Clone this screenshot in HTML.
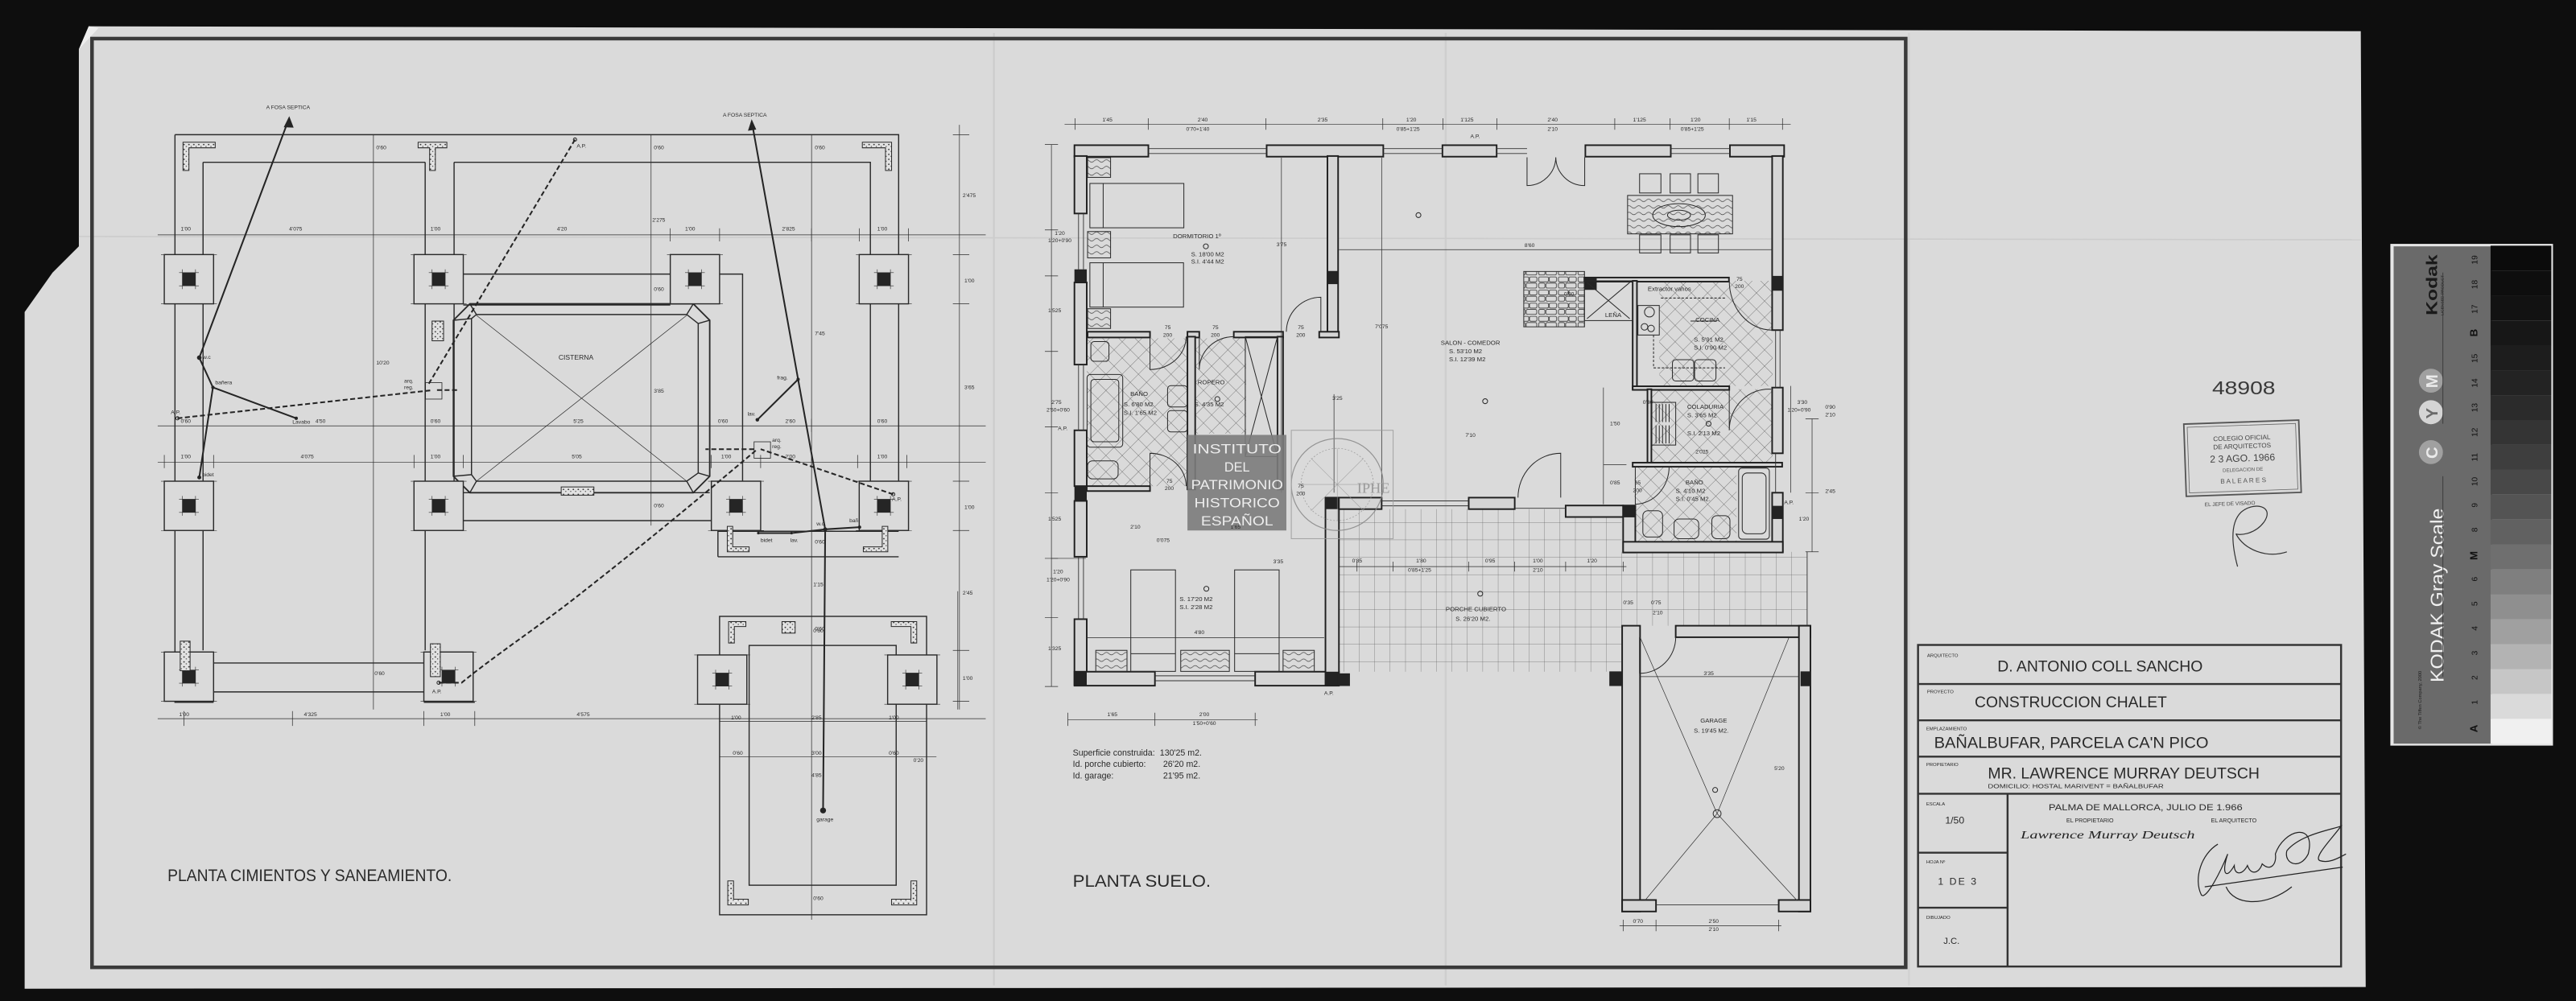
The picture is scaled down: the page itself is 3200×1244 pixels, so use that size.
<!DOCTYPE html>
<html><head><meta charset="utf-8"><style>
html,body{margin:0;padding:0;background:#0e0e0e;}
svg{display:block;}
text{font-family:"Liberation Sans",sans-serif;fill:#2a2a2a;}
.d{font-size:3.3px;}
.l{font-size:4.2px;}
.s{font-size:3.8px;}
</style></head><body>
<svg width="3200" height="1244" viewBox="0 0 1568 609.5" preserveAspectRatio="none" xmlns="http://www.w3.org/2000/svg">
<defs>
<pattern id="tile" width="7" height="7" patternUnits="userSpaceOnUse" patternTransform="rotate(45)">
<path d="M0 0H7M0 0V7" stroke="#555" stroke-width="0.35" fill="none"/></pattern>
<pattern id="grid" width="9.4" height="10.6" patternUnits="userSpaceOnUse">
<path d="M0 0H9.4M0 0V10.6" stroke="#666" stroke-width="0.35" fill="none"/></pattern>
<pattern id="dots" width="3" height="3" patternUnits="userSpaceOnUse">
<rect width="3" height="3" fill="#e2e2e2"/><circle cx="1" cy="1" r="0.45" fill="#333"/><circle cx="2.4" cy="2.2" r="0.35" fill="#444"/></pattern>
<pattern id="wood" width="6" height="4" patternUnits="userSpaceOnUse">
<path d="M0 2 Q1.5 0.5 3 2 T6 2" stroke="#444" stroke-width="0.35" fill="none"/></pattern>
<pattern id="stone" width="12" height="8" patternUnits="userSpaceOnUse">
<rect x="0.6" y="0.6" width="6" height="3" rx="0.8" fill="none" stroke="#333" stroke-width="0.4"/>
<rect x="7" y="0.6" width="4.5" height="3" rx="0.8" fill="none" stroke="#333" stroke-width="0.4"/>
<rect x="0.6" y="4.4" width="3.8" height="3" rx="0.8" fill="none" stroke="#333" stroke-width="0.4"/>
<rect x="5" y="4.4" width="6.4" height="3" rx="0.8" fill="none" stroke="#333" stroke-width="0.4"/></pattern>
<g id="ft">
<rect x="0" y="0" width="30" height="30" fill="#dadada" stroke="#2a2a2a" stroke-width="0.7"/>
<rect x="11" y="11" width="8" height="8" fill="#252525"/>
<path d="M9 11H21M9 19H21M11 9V21M19 9V21" stroke="#2a2a2a" stroke-width="0.3"/>
<path d="M-2 0H32M-2 30H32" stroke="#2a2a2a" stroke-width="0.3"/>
</g>
</defs>

<rect width="1568" height="609.5" fill="#0e0e0e"/>
<polygon points="54,16 1437,19 1440,601 15,602 15,190 32,166 48,150 48,30" fill="#dadada"/>
<path d="M54,16 L48,30 L60,17 Z" fill="#eeeeee"/>
<line x1="605" y1="20" x2="605" y2="600" stroke="#cbcbcb" stroke-width="1"/>
<line x1="880" y1="20" x2="880" y2="600" stroke="#cecece" stroke-width="1.2"/>
<line x1="1162" y1="20" x2="1162" y2="600" stroke="#d0d0d0" stroke-width="1"/>
<line x1="48" y1="144" x2="1437" y2="146" stroke="#cccccc" stroke-width="0.8"/>

<rect x="56" y="23.5" width="1104" height="565.5" fill="none" stroke="#3a3a3a" stroke-width="2.2"/>

<!-- LEFT PLAN -->
<g stroke="#2a2a2a" stroke-width="0.7" fill="none">
<path d="M106.5 82H547V323"/>
<path d="M123.6 98.8H258.8M276.4 98.8H529.8V293"/>
<path d="M106.5 82V427.6H130M123.6 98.8V396"/>
<path d="M258.8 98.8V396M276.4 98.8V155M276.4 185V293"/>
<path d="M130 403.7H258M130 421.3H258M258 427.6H289"/>
<path d="M282 166.9H408M282 185.7H408M438 166.9H452V317M282 300H432M282 317H452"/>
<path d="M437 323.5H547M437 339H547M437 323V339"/>
<polygon points="276,195 286,185 422,185 432,195 432,290 422,300 286,300 276,290" stroke-width="0.9"/>
<polygon points="287,194 290,191.5 418,191.5 425,197 425,288 418,293 290,293 287,289"/>
<path d="M276 195L287 194M286 185L290 191.5M422 185L418 191.5M432 195L425 197M432 290L425 288M422 300L418 293M286 300L290 293M276 290L287 289"/>
<path d="M290 192L418 293M418 192L290 293" stroke-width="0.35"/>
<rect x="438" y="375.3" width="126" height="181.7"/>
<rect x="456" y="393" width="89.5" height="146"/>
<g stroke-width="0.35">
<path d="M96 143H600M96 259.3H600M96 281.5H600M96 437.6H600"/>
<path d="M227.3 82V432M396.3 82V320M494 82V560M584 76V432M583 360V432"/>
<path d="M106.5 139V147M123.6 139V147M258.8 139V147M276.4 139V147M408 139V147M438 139V147M494 139V147M523 139V147M553 139V147"/>
<path d="M106.5 255V263M123.6 255V263M258.8 255V263M276.4 255V263M432 255V263M452 255V263M494 255V263M529.8 255V263M547 255V263"/>
<path d="M100 277V285M130 277V285M252 277V285M282 277V285M433 277V285M463 277V285M494 277V285M522 277V285M552 277V285"/>
<path d="M112 433V442M178 433V442M258 433V442M289 433V442M438 433V442"/>
<path d="M580 82H590M580 155H590M580 185H590M580 293H590M580 323H590M580 396H590M580 427H590"/>
<path d="M438 439.3H564M438 460.9H570"/>
</g>
</g>
<use href="#ft" x="100" y="155"/><use href="#ft" x="252" y="155"/><use href="#ft" x="408" y="155"/><use href="#ft" x="523" y="155"/>
<use href="#ft" x="100" y="293"/><use href="#ft" x="252" y="293"/><use href="#ft" x="433" y="293"/><use href="#ft" x="523" y="293"/>
<use href="#ft" x="100" y="397"/><use href="#ft" x="258" y="397"/>
<use href="#ft" x="424.6" y="398.8"/><use href="#ft" x="540.3" y="398.8"/>
<g fill="url(#dots)" stroke="#2a2a2a" stroke-width="0.5">
<path d="M111.4 86.6H131V90H115V103.8H111.4Z"/>
<path d="M254.5 86.6H272V90H265V103.8H261.5V90H254.5Z"/>
<path d="M524.9 86.6H542.7V103.8H539V90H524.9Z"/>
<rect x="263" y="195.5" width="7" height="12"/>
<rect x="341.6" y="296.5" width="19.9" height="5"/>
<rect x="109.7" y="390.4" width="6" height="18"/>
<rect x="262" y="392" width="6" height="20"/>
<path d="M442.7 320.5H446V333H456V336H442.7Z"/>
<path d="M537 320.5H540.4V336H525.5V333H537Z"/>
<path d="M443.5 378.5H454V381.5H447V391.5H443.5Z"/>
<rect x="476" y="378.5" width="8" height="7"/>
<path d="M542.5 378.5H558V391.5H554.5V381.5H542.5Z"/>
<path d="M443 536.4H446.5V547.5H455.5V551H443Z"/>
<path d="M554.5 536.4H558V551H542.7V547.5H554.5Z"/>
</g>
<g stroke="#252525" fill="none">
<path d="M176 72L121.3 217.8L129.6 235.9L121.3 290.7M129.6 235.9L180.3 254.7" stroke-width="1"/>
<path d="M176 72l-2.5 5 4.5 0.2z" fill="#252525"/>
<path d="M108 254.7L262 237.7M350 85L260.5 234.5M266 237.5H278.7" stroke-width="1" stroke-dasharray="3,1.6"/>
<path d="M267 415.7H281C300 400 330 380 353 361.8S400 325 461 273.5" stroke-width="1" stroke-dasharray="3,1.6"/>
<path d="M543.7 301L463 273.5M459 273.5H429.4" stroke-width="1" stroke-dasharray="3,1.6"/>
<path d="M457.6 74L485.8 231L502.3 322.3L501 493.5M485.8 231L461 255.6M502.3 322.3L523.2 321M502.3 322.3L481.8 324.6H461.6" stroke-width="1"/>
<path d="M457.6 74l-1.6 5 3.6-0.5z" fill="#252525"/>
<rect x="259" y="233" width="10" height="10" stroke-width="0.4"/>
<rect x="459" y="269" width="10" height="10" stroke-width="0.4"/>
</g>
<g fill="#252525">
<circle cx="121.3" cy="217.8" r="1.4"/><circle cx="129.6" cy="235.9" r="1"/><circle cx="121.3" cy="290.7" r="1.2"/><circle cx="180.3" cy="254.7" r="1"/>
<circle cx="485.8" cy="231" r="1"/><circle cx="461" cy="255.6" r="1.1"/><circle cx="502.3" cy="322.3" r="1.2"/><circle cx="523.2" cy="321" r="1"/><circle cx="481.8" cy="324.6" r="0.8"/><circle cx="461.6" cy="324.6" r="0.8"/><circle cx="501" cy="493.5" r="1.8"/>
</g>
<g fill="none" stroke="#252525" stroke-width="0.5"><circle cx="108" cy="254.7" r="1"/><circle cx="350" cy="85" r="1"/><circle cx="543.7" cy="301" r="1"/><circle cx="267" cy="415.7" r="1"/></g>
<text x="162" y="66.5" class="d">A FOSA SEPTICA</text>
<text x="440" y="71" class="d">A FOSA SEPTICA</text>
<text x="340" y="219" class="l">CISTERNA</text>
<text x="123.5" y="218.5" class="d">w.c</text>
<text x="131" y="234" class="d">bañera</text>
<text x="178" y="258" class="d">Lavabo</text>
<text x="104" y="252" class="d">A.P.</text>
<text x="246" y="233" class="d">arq.</text><text x="246" y="237" class="d">reg.</text>
<text x="123" y="290" class="d">bidet</text>
<text x="351" y="90" class="d">A.P.</text>
<text x="473" y="231" class="d">frag.</text>
<text x="455" y="253" class="d">lav.</text>
<text x="470" y="269" class="d">arq.</text><text x="470" y="273" class="d">reg.</text>
<text x="543" y="305" class="d">A.P.</text>
<text x="517" y="318" class="d">bañ.</text>
<text x="497" y="320" class="d">w.c.</text>
<text x="463" y="330" class="d">bidet</text>
<text x="481" y="330" class="d">lav.</text>
<text x="263" y="422" class="d">A.P.</text>
<text x="497" y="500" class="d">garage</text>
<g class="d">
<text x="110" y="140.5">1'00</text><text x="176" y="140.5">4'075</text><text x="262" y="140.5">1'00</text><text x="339" y="140.5">4'20</text><text x="417" y="140.5">1'00</text><text x="476" y="140.5">2'825</text><text x="534" y="140.5">1'00</text>
<text x="110" y="257.5">0'60</text><text x="192" y="257.5">4'50</text><text x="262" y="257.5">0'60</text><text x="349" y="257.5">5'25</text><text x="437" y="257.5">0'60</text><text x="478" y="257.5">2'60</text><text x="534" y="257.5">0'60</text>
<text x="110" y="279">1'00</text><text x="183" y="279">4'075</text><text x="262" y="279">1'00</text><text x="348" y="279">5'05</text><text x="439" y="279">1'00</text><text x="478" y="279">2'00</text><text x="534" y="279">1'00</text>
<text x="229" y="91">0'60</text><text x="398" y="91">0'60</text><text x="496" y="91">0'60</text><text x="397" y="135">2'275</text><text x="398" y="177">0'60</text><text x="398" y="239">3'85</text><text x="398" y="309">0'60</text><text x="229" y="222">10'20</text><text x="496" y="204">7'45</text><text x="496" y="331">0'60</text><text x="495" y="357">1'15</text><text x="496" y="384">0'60</text><text x="228" y="411">0'60</text>
<text x="586" y="120">2'475</text><text x="587" y="172">1'00</text><text x="587" y="237">3'65</text><text x="587" y="310">1'00</text><text x="586" y="362">2'45</text><text x="586" y="414">1'00</text>
<text x="109" y="436">1'00</text><text x="185" y="436">4'325</text><text x="268" y="436">1'00</text><text x="351" y="436">4'575</text>
<text x="445" y="438">1'00</text><text x="494" y="438">2'85</text><text x="541" y="438">1'00</text>
<text x="446" y="459.5">0'60</text><text x="494" y="459.5">3'00</text><text x="541" y="459.5">0'60</text><text x="556" y="464">0'20</text>
<text x="494" y="473">4'85</text><text x="495" y="548">0'60</text><text x="495" y="385">0'60</text>
</g>
<text x="102" y="536.5" style="font-size:10.5px" textLength="173" lengthAdjust="spacingAndGlyphs">PLANTA CIMIENTOS Y SANEAMIENTO.</text>

<!-- RIGHT PLAN -->
<rect x="815" y="310" width="172" height="99" fill="url(#grid)"/>
<rect x="987" y="336" width="113" height="45" fill="url(#grid)"/>
<rect x="661.5" y="206" width="61" height="90" fill="url(#tile)"/>
<rect x="727.5" y="206" width="31" height="58" fill="url(#tile)"/>
<rect x="1010" y="171" width="69" height="64" fill="url(#tile)"/>
<rect x="1005" y="237" width="74" height="45" fill="url(#tile)"/>
<rect x="995" y="284" width="62" height="46" fill="url(#tile)"/>
<rect x="927.5" y="165.3" width="37" height="33.7" fill="url(#stone)" stroke="#333" stroke-width="0.5"/>
<g fill="#d5d5d5" stroke="#1e1e1e" stroke-width="0.95">
<rect x="654" y="88.4" width="45" height="7"/><rect x="771" y="88.4" width="71" height="7"/><rect x="878" y="88.4" width="33" height="7"/><rect x="965" y="88.4" width="52" height="7"/><rect x="1053" y="88.4" width="33" height="7"/>
<rect x="654" y="95" width="7.5" height="35"/><rect x="654" y="172" width="7.5" height="50"/><rect x="654" y="262" width="7.5" height="34"/><rect x="654" y="305" width="7.5" height="34"/><rect x="654" y="377" width="7.5" height="40"/>
<rect x="654" y="409" width="49" height="8.5"/><rect x="764" y="409" width="51" height="8.5"/>
<rect x="806.8" y="303" width="8.2" height="114"/>
<rect x="815" y="303" width="26" height="7"/><rect x="894" y="303" width="28" height="7"/><rect x="953" y="307.8" width="35" height="7"/>
<rect x="1078.7" y="95" width="6.5" height="106"/><rect x="1078.7" y="236" width="6.5" height="40"/><rect x="1078.7" y="300" width="6.5" height="36"/>
<rect x="988" y="307.8" width="7.4" height="28.6"/><rect x="988" y="329.9" width="97.2" height="6.5"/>
<rect x="964.4" y="169" width="88" height="2.5"/><rect x="993.8" y="171" width="2.6" height="66"/>
<rect x="993.8" y="235.2" width="58.8" height="2.2"/><rect x="1002.8" y="237" width="2.4" height="46"/>
<rect x="993.8" y="281.7" width="91" height="2.5"/>
<rect x="808" y="95" width="6.5" height="108"/>
<rect x="662" y="202" width="38" height="3.5"/><rect x="722.8" y="202" width="7.2" height="3.5"/><rect x="751" y="202" width="30" height="3.5"/><rect x="803" y="202" width="12" height="3.5"/>
<rect x="722.8" y="205" width="4.7" height="93"/><rect x="777.6" y="205" width="3.4" height="93"/>
<rect x="661.5" y="296" width="38.5" height="3"/>
<rect x="987.4" y="381" width="10.9" height="174"/><rect x="1020" y="381" width="82" height="7"/><rect x="1095" y="381" width="7" height="174"/>
<rect x="987.4" y="548" width="20.6" height="7"/><rect x="1082.7" y="548" width="19.3" height="7"/>
</g>
<g fill="#232323">
<rect x="654" y="164" width="7.5" height="8"/><rect x="654" y="296" width="7.5" height="9"/><rect x="654" y="409" width="7.5" height="8.5"/>
<rect x="806.8" y="409" width="8.2" height="8.5"/><rect x="806.8" y="303" width="8.2" height="7"/><rect x="808" y="165" width="6.5" height="8"/>
<rect x="1078.7" y="168" width="6.5" height="9"/><rect x="1078.7" y="308" width="6.5" height="8"/><rect x="964.4" y="169" width="7.5" height="7.5"/>
<rect x="988" y="307.8" width="7.4" height="7.2"/><rect x="979.6" y="408.8" width="7.8" height="8.9"/><rect x="1096" y="408.8" width="6" height="9"/><rect x="814" y="410" width="7.7" height="7.7"/>
</g>
<g stroke="#333" stroke-width="0.45" fill="none">
<path d="M699 90.5H771M699 93.5H771M842 90.5H878M842 93.5H878M911 90.5H929.5M911 93.5H929.5M1017 90.5H1053M1017 93.5H1053"/>
<path d="M656.5 130V164M659.5 130V164M656.5 222V262M659.5 222V262M656.5 339V377M659.5 339V377"/>
<path d="M703 411.5H764M703 414.5H764M841 305H894M841 308H894M922 309.5H953M1080.8 201V236M1083.5 201V236M1080.8 276V300"/>
<path d="M1008 551H1082.7M1100 336V381"/>
</g>
<g stroke="#2a2a2a" stroke-width="0.5" fill="none">
<path d="M929.5 95.8V113A17.5 17.5 0 0 0 947 95.8M964.6 95.8V113A17.5 17.5 0 0 1 947 95.8"/>
<path d="M804 202V181A21 21 0 0 0 783 202"/>
<path d="M950 303V276A26 27 0 0 0 924 303"/>
<path d="M700 205V225A22 20 0 0 0 722 205"/>
<path d="M730 205V225A21 20 0 0 1 751 205"/>
<path d="M700 296V276A22 20 0 0 1 722 296"/>
<path d="M998 388V410A22 22 0 0 0 1020 388"/>
<path d="M1052.6 171A26 30 0 0 0 1078.7 201"/>
<path d="M1052.6 237V262A24 25 0 0 1 1078 237"/>
<path d="M995.4 284V307A21 23 0 0 0 1016 284"/>
</g>
<g stroke="#2a2a2a" stroke-width="0.5" fill="none">
<rect x="663.4" y="111.7" width="57.2" height="27"/><path d="M671.5 111.7V138.7"/>
<rect x="663.4" y="160" width="57" height="27"/><path d="M671.5 160V187"/>
<rect x="662" y="96" width="14" height="12" fill="url(#wood)"/><rect x="662" y="141" width="14" height="16" fill="url(#wood)"/><rect x="662" y="188" width="14" height="12" fill="url(#wood)"/>
<rect x="688.3" y="347" width="27.2" height="61.8"/><path d="M688.3 398H715.5"/>
<rect x="751.5" y="347" width="27.1" height="61.8"/><path d="M751.5 398H778.6"/>
<rect x="667" y="396" width="19" height="12.8" fill="url(#wood)"/><rect x="718.7" y="396" width="29.6" height="12.8" fill="url(#wood)"/><rect x="781" y="396" width="19" height="12.8" fill="url(#wood)"/>
<rect x="990.7" y="119" width="63.9" height="23.4" fill="url(#wood)"/><ellipse cx="1022" cy="131" rx="16" ry="7"/><ellipse cx="1022" cy="131" rx="7" ry="3"/>
<rect x="998" y="105.8" width="13" height="11.7"/><rect x="1016.6" y="105.8" width="12.4" height="11.7"/><rect x="1033.5" y="105.8" width="12.5" height="11.7"/>
<rect x="998" y="143" width="13" height="11"/><rect x="1016.6" y="143" width="12.4" height="11"/><rect x="1033.5" y="143" width="12.5" height="11"/>
<rect x="661.7" y="228" width="21.7" height="44.3" rx="2"/><rect x="664" y="231" width="17" height="38" rx="2"/>
<rect x="710.7" y="234.8" width="12" height="13" rx="2"/><rect x="710.7" y="250" width="12" height="13" rx="2"/>
<rect x="662" y="280.6" width="18.6" height="11" rx="3"/><rect x="664" y="208" width="11" height="12" rx="2"/>
<rect x="758" y="205" width="19.6" height="73"/><path d="M758 205L777.6 278M777.6 205L758 278"/>
<rect x="964.4" y="171" width="29.4" height="24.2"/><path d="M966 172L992 194M992 172L966 194"/>
<rect x="997" y="186" width="13" height="18"/><circle cx="1004" cy="190" r="3"/><circle cx="1001" cy="199" r="2"/><circle cx="1005" cy="200" r="2"/>
<path d="M1011 181.5H1050M1006.5 204V224H1050" stroke-dasharray="1.5,1"/>
<rect x="1018" y="219" width="13" height="13" rx="2"/><rect x="1031.5" y="219" width="13" height="13" rx="2"/>
<rect x="1005.5" y="245" width="14.5" height="26"/><path d="M1008 246V257M1010 246V257M1012 246V257M1014 246V257M1016 246V257M1008 259V270M1010 259V270M1012 259V270M1014 259V270M1016 259V270"/>
<rect x="1058.3" y="285" width="18.7" height="43.3" rx="2"/><rect x="1060.5" y="288" width="14.5" height="37" rx="3"/>
<rect x="1000" y="311" width="12" height="16" rx="3"/><rect x="1019" y="316" width="15" height="12" rx="3"/><rect x="1042" y="314" width="11" height="14" rx="3"/>
<path d="M1029 195.5H1045"/>
</g>
<g stroke="#333" stroke-width="0.35" fill="none">
<path d="M998.3 388L1045.2 495.4L1093.6 548M1089 388L1045.2 495.4L1001.5 548"/>
<circle cx="1045.2" cy="495.4" r="2.4" stroke-width="0.5"/>
</g>
<g stroke="#2a2a2a" stroke-width="0.35" fill="none">
<path d="M648 75.6H1090"/>
<path d="M654.4 72V79M698.9 72V79M770.6 72V79M841.7 72V79M878.3 72V79M911.2 72V79M982.9 72V79M1016.6 72V79M1052.6 72V79M1085 72V79"/>
<path d="M640 88V418M636 88H644M636 140H644M636 168H644M636 214H644M636 260H644M636 300H644M636 340H644M636 376H644M636 418H644"/>
<path d="M815 152H1079M780 96V300M841 96V305M812 240V300"/>
<path d="M815 345H990M826 342V348M848 342V348M894 342V348M922 342V348M953 342V348M988 342V348"/>
<path d="M661 388.3H806M650 438.3H765.5M650 434V442M703 434V442M764 434V442"/>
<path d="M985.8 563.7H1084.3M988 560V567M1008 560V567M1082.7 560V567"/>
<path d="M998.3 412H1095M1103 255V336M1099 255H1107M1099 300H1107M1099 336H1107M1090 235V300"/>
<path d="M976 236V307M976 283H990M640 340H661"/>
</g>
<g opacity="0.85">
<circle cx="814" cy="295" r="28" fill="none" stroke="#888" stroke-width="0.6"/>
<circle cx="814" cy="295" r="22" fill="none" stroke="#999" stroke-width="0.4" stroke-dasharray="1,1"/>
<path d="M792 295H836M814 273V317M798 279L830 311M830 279L798 311" stroke="#999" stroke-width="0.3"/>
<rect x="786" y="262" width="62" height="66" fill="none" stroke="#999" stroke-width="0.5"/>
</g>
<text x="826" y="300" style="font-size:9px;fill:#9a9a9a;font-family:'Liberation Serif',serif">IPHE</text>
<rect x="722.8" y="264.8" width="60.2" height="58.2" fill="#7b7b7b" opacity="0.9"/>
<g style="font-family:'Liberation Serif',serif;font-size:8px" text-anchor="middle">
<text x="753" y="276" style="fill:#ededed" textLength="54" lengthAdjust="spacingAndGlyphs">INSTITUTO</text>
<text x="753" y="287" style="fill:#ededed">DEL</text>
<text x="753" y="298" style="fill:#ededed" textLength="56" lengthAdjust="spacingAndGlyphs">PATRIMONIO</text>
<text x="753" y="309" style="fill:#ededed" textLength="52" lengthAdjust="spacingAndGlyphs">HISTORICO</text>
<text x="753" y="320" style="fill:#ededed" textLength="44" lengthAdjust="spacingAndGlyphs">ESPAÑOL</text>
</g>
<g class="d">
<text x="671" y="74">1'45</text><text x="729" y="74">2'40</text><text x="722" y="79.5">0'70+1'40</text><text x="802" y="74">2'35</text><text x="856" y="74">1'20</text><text x="850" y="79.5">0'85+1'25</text><text x="889" y="74">1'125</text><text x="942" y="74">2'40</text><text x="942" y="79.5">2'10</text><text x="994" y="74">1'125</text><text x="1029" y="74">1'20</text><text x="1023" y="79.5">0'85+1'25</text><text x="1063" y="74">1'15</text>
<text x="895" y="84">A.P.</text>
<text x="642" y="143">1'20</text><text x="638" y="147.5">1'20+0'90</text><text x="638" y="190">1'525</text><text x="640" y="246">2'75</text><text x="637" y="250.5">2'50+0'60</text><text x="644" y="262">A.P.</text><text x="638" y="317">1'525</text><text x="641" y="349">1'20</text><text x="637" y="354">1'20+0'90</text><text x="638" y="396">1'325</text>
<text x="777" y="150">3'75</text><text x="928" y="150.5">8'60</text><text x="837" y="200">7'075</text><text x="811" y="243.5">3'25</text><text x="892" y="266">7'10</text>
<text x="709" y="200.5">75</text><text x="708" y="205">200</text><text x="738" y="200.5">75</text><text x="737" y="205">200</text><text x="790" y="200.5">75</text><text x="789" y="205">200</text>
<text x="710" y="294">75</text><text x="709" y="298.5">200</text><text x="790" y="297">75</text><text x="789" y="301.5">200</text>
<text x="688" y="322">2'10</text><text x="749" y="322">1'65</text><text x="704" y="330">0'075</text>
<text x="952" y="180">0'90</text><text x="1057" y="171">75</text><text x="1056" y="175.5">200</text>
<text x="1000" y="246">0'30</text><text x="980" y="259">1'50</text><text x="1032" y="276">2'025</text><text x="980" y="295">0'85</text><text x="995" y="295">65</text><text x="994" y="299.5">200</text>
<text x="1094" y="246">3'30</text><text x="1088" y="250.5">1'20+0'90</text><text x="1111" y="249">0'90</text><text x="1111" y="253.5">2'10</text><text x="1111" y="300">2'45</text><text x="1095" y="317">1'20</text><text x="1086" y="307">A.P.</text>
<text x="775" y="343">3'35</text><text x="823" y="342.5">0'85</text><text x="862" y="342.5">1'80</text><text x="857" y="348">0'85+1'25</text><text x="904" y="342.5">0'95</text><text x="933" y="342.5">1'00</text><text x="933" y="348">2'10</text><text x="966" y="342.5">1'20</text>
<text x="727" y="386">4'80</text><text x="674" y="436">1'65</text><text x="730" y="436">2'00</text><text x="726" y="441.5">1'50+0'60</text><text x="806" y="423">A.P.</text>
<text x="988" y="368">0'35</text><text x="1005" y="368">0'75</text><text x="1006" y="374">2'10</text><text x="1037" y="411">3'35</text><text x="1080" y="469">5'20</text>
<text x="994" y="562">0'70</text><text x="1040" y="562">2'50</text><text x="1040" y="567">2'10</text>
</g>
<g class="s">
<text x="714" y="145">DORMITORIO 1º</text><text x="725" y="156">S. 18'00 M2</text><text x="725" y="160.5">S.I. 4'44 M2</text>
<text x="688" y="241">BAÑO</text><text x="684" y="247.5">S. 6'80 M2</text><text x="684" y="252.5">S.I. 1'65 M2</text>
<text x="729" y="234">ROPERO</text><text x="727" y="247.5">S. 4'35 M2</text>
<text x="877" y="210">SALON - COMEDOR</text><text x="882" y="215">S. 53'10 M2</text><text x="882" y="220">S.I. 12'39 M2</text>
<text x="1032" y="196">COCINA</text><text x="1031" y="208">S. 5'91 M2</text><text x="1031" y="213">S.I. 0'90 M2</text>
<text x="1003" y="177">Extractor vahos</text><text x="977" y="193">LEÑA</text>
<text x="1027" y="249">COLADURIA</text><text x="1027" y="254">S. 3'65 M2</text><text x="1027" y="265">S.I. 2'13 M2</text>
<text x="1026" y="295">BAÑO</text><text x="1020" y="300">S. 4'10 M2</text><text x="1020" y="305">S.I. 0'45 M2.</text>
<text x="718" y="366">S. 17'20 M2</text><text x="718" y="371">S.I. 2'28 M2</text>
<text x="880" y="372">PORCHE CUBIERTO</text><text x="886" y="378">S. 26'20 M2.</text>
<text x="1035" y="440">GARAGE</text><text x="1031" y="446">S. 19'45 M2.</text>
</g>
<g fill="none" stroke="#2a2a2a" stroke-width="0.5"><circle cx="734" cy="150" r="1.5"/><circle cx="863.4" cy="131" r="1.5"/><circle cx="904" cy="244.3" r="1.5"/><circle cx="734.3" cy="358.5" r="1.5"/><circle cx="901" cy="361.5" r="1.5"/><circle cx="1044" cy="481" r="1.5"/><circle cx="1040" cy="258" r="1.5"/><circle cx="741" cy="243" r="1.5"/></g>
<g style="font-size:5.2px">
<text x="653" y="460">Superficie construida:</text><text x="706" y="460">130'25 m2.</text>
<text x="653" y="467">Id. porche cubierto:</text><text x="708" y="467">26'20 m2.</text>
<text x="653" y="474">Id. garage:</text><text x="708" y="474">21'95 m2.</text>
</g>
<text x="653" y="540" style="font-size:10.5px" textLength="84" lengthAdjust="spacingAndGlyphs">PLANTA SUELO.</text>

<!-- TITLE BLOCK -->
<g fill="none" stroke="#333" stroke-width="1.2">
<rect x="1167.5" y="392.7" width="257.5" height="195.8"/>
<path d="M1167.5 416.5H1425M1167.5 438.6H1425M1167.5 460.7H1425M1167.5 483.3H1425M1167.5 519.2H1222M1167.5 552.7H1222M1222 483.3V588.5"/>
</g>
<g style="font-size:2.9px">
<text x="1173" y="400">ARQUITECTO</text><text x="1173" y="422">PROYECTO</text><text x="1172.5" y="444.6">EMPLAZAMIENTO</text><text x="1172.5" y="466.5">PROPIETARIO</text>
<text x="1172.5" y="490.5">ESCALA</text><text x="1172.5" y="525.7">HOJA Nº</text><text x="1172.5" y="559.5">DIBUJADO</text>
</g>
<text x="1215.8" y="408.8" style="font-size:9.6px" textLength="125" lengthAdjust="spacingAndGlyphs">D. ANTONIO COLL SANCHO</text>
<text x="1202" y="430.6" style="font-size:9.6px" textLength="117" lengthAdjust="spacingAndGlyphs">CONSTRUCCION CHALET</text>
<text x="1177.3" y="455.5" style="font-size:9.6px" textLength="167" lengthAdjust="spacingAndGlyphs">BAÑALBUFAR, PARCELA CA'N PICO</text>
<text x="1210" y="474" style="font-size:9.6px" textLength="165.4" lengthAdjust="spacingAndGlyphs">MR. LAWRENCE MURRAY DEUTSCH</text>
<text x="1210" y="479.8" style="font-size:3.4px" textLength="107" lengthAdjust="spacingAndGlyphs">DOMICILIO: HOSTAL MARIVENT = BAÑALBUFAR</text>
<text x="1247" y="493.5" style="font-size:5.6px" textLength="118" lengthAdjust="spacingAndGlyphs">PALMA DE MALLORCA, JULIO DE 1.966</text>
<text x="1257.8" y="500.7" style="font-size:3.5px">EL PROPIETARIO</text>
<text x="1345.8" y="500.7" style="font-size:3.5px">EL ARQUITECTO</text>
<text x="1184" y="501.5" style="font-size:6px">1/50</text>
<text x="1179.6" y="538.6" style="font-size:6px" textLength="23.4">1 DE 3</text>
<text x="1183" y="574.8" style="font-size:5.5px">J.C.</text>
<text x="1230" y="510.5" style="font-family:'Liberation Serif',serif;font-style:italic;font-size:6.5px;fill:#222" textLength="106" lengthAdjust="spacingAndGlyphs">Lawrence Murray Deutsch</text>
<path d="M1350 514C1340 520 1335 535 1340 545C1343 548 1352 530 1356 520C1352 532 1355 536 1360 527C1360 533 1365 533 1368 527C1370 533 1375 532 1377 526C1382 531 1386 526 1385 520C1390 505 1410 500 1405 520C1400 530 1390 526 1392 518C1400 508 1420 505 1425 503C1420 510 1408 522 1412 524C1418 526 1424 522 1428 520M1342 540L1426 528M1355 540C1360 552 1380 552 1395 540" fill="none" stroke="#222" stroke-width="0.6"/>

<!-- stamps -->
<text x="1346.5" y="240" style="font-size:11.5px;fill:#3a3a3a" textLength="38.5" lengthAdjust="spacingAndGlyphs">48908</text>
<g transform="rotate(-2 1365 279)">
<rect x="1330" y="257" width="70" height="44" fill="none" stroke="#555" stroke-width="0.9"/>
<rect x="1332" y="259" width="66" height="40" fill="none" stroke="#666" stroke-width="0.4"/>
<g text-anchor="middle" style="font-size:4px">
<text x="1365" y="268" style="fill:#444">COLEGIO OFICIAL</text>
<text x="1365" y="273" style="fill:#444">DE ARQUITECTOS</text>
<text x="1365" y="281" style="font-size:6px;fill:#444">2 3 AGO. 1966</text>
<text x="1365" y="287" style="font-size:3px;fill:#555">DELEGACION DE</text>
<text x="1365" y="294" style="fill:#555">B A L E A R E S</text>
</g>
<text x="1341" y="307.5" style="font-size:3.2px;fill:#444">EL JEFE DE VISADO</text>
</g>
<path d="M1362 345C1358 330 1358 318 1364 312C1372 305 1385 308 1378 318C1372 326 1362 326 1361 325C1366 335 1380 340 1392 336" fill="none" stroke="#333" stroke-width="0.6"/>

<!-- KODAK CARD -->
<rect x="1455" y="148.5" width="99" height="305.5" fill="#e6e6e6"/>
<rect x="1457" y="150" width="60" height="302.8" fill="#6a6a6a"/>
<g>
<rect x="1516" y="437.6" width="37" height="15.2" fill="#f0f0f0"/>
<rect x="1516" y="422.5" width="37" height="15.2" fill="#dadada"/>
<rect x="1516" y="407.3" width="37" height="15.2" fill="#c6c6c6"/>
<rect x="1516" y="392.2" width="37" height="15.2" fill="#b3b3b3"/>
<rect x="1516" y="377" width="37" height="15.2" fill="#a0a0a0"/>
<rect x="1516" y="361.8" width="37" height="15.2" fill="#8f8f8f"/>
<rect x="1516" y="346.7" width="37" height="15.2" fill="#7f7f7f"/>
<rect x="1516" y="331.5" width="37" height="15.2" fill="#6f6f6f"/>
<rect x="1516" y="316.4" width="37" height="15.2" fill="#616161"/>
<rect x="1516" y="301.2" width="37" height="15.2" fill="#545454"/>
<rect x="1516" y="286" width="37" height="15.2" fill="#484848"/>
<rect x="1516" y="270.9" width="37" height="15.2" fill="#3e3e3e"/>
<rect x="1516" y="255.7" width="37" height="15.2" fill="#343434"/>
<rect x="1516" y="240.6" width="37" height="15.2" fill="#2b2b2b"/>
<rect x="1516" y="225.4" width="37" height="15.2" fill="#232323"/>
<rect x="1516" y="210.2" width="37" height="15.2" fill="#1d1d1d"/>
<rect x="1516" y="195.1" width="37" height="15.2" fill="#171717"/>
<rect x="1516" y="179.9" width="37" height="15.2" fill="#121212"/>
<rect x="1516" y="164.8" width="37" height="15.2" fill="#0e0e0e"/>
<rect x="1516" y="149.6" width="37" height="15.2" fill="#0b0b0b"/>
</g>
<circle cx="1479.7" cy="275.3" r="7.3" fill="#a0a0a0"/><circle cx="1479.7" cy="251" r="7.3" fill="#d4d4d4"/><circle cx="1479.7" cy="231.8" r="7.3" fill="#a0a0a0"/>
<g transform="rotate(-90)">
<text x="-279.3" y="1483.7" style="font-size:10px;font-weight:bold;fill:#eaeaea">C</text>
<text x="-255" y="1483.7" style="font-size:10px;font-weight:bold;fill:#6a6a6a">Y</text>
<text x="-236.3" y="1483.7" style="font-size:10px;font-weight:bold;fill:#eaeaea">M</text>
<text x="-415.5" y="1487.5" style="font-size:11.5px;fill:#f0f0f0" textLength="106" lengthAdjust="spacingAndGlyphs">KODAK Gray Scale</text>
<text x="-192" y="1483.5" style="font-size:9.5px;font-weight:bold;fill:#1a1a1a" textLength="37" lengthAdjust="spacingAndGlyphs">Kodak</text>
<text x="-192" y="1487.5" style="font-size:2.4px;fill:#1a1a1a">LICENSED PRODUCT</text>
<text x="-444" y="1474" style="font-size:2.8px;fill:#222">© The Tiffen Company, 2000</text>
<g style="font-size:5px">
<text x="-446" y="1508" style="font-weight:bold;font-size:6.5px;fill:#111">A</text>
<text x="-429" y="1508" style="fill:#111">1</text><text x="-414" y="1508" style="fill:#111">2</text><text x="-399" y="1508" style="fill:#111">3</text><text x="-384" y="1508" style="fill:#111">4</text><text x="-369" y="1508" style="fill:#111">5</text><text x="-354" y="1508" style="fill:#111">6</text>
<text x="-341" y="1508" style="font-weight:bold;font-size:6.5px;fill:#111">M</text>
<text x="-324" y="1508" style="fill:#111">8</text><text x="-309" y="1508" style="fill:#111">9</text><text x="-296" y="1508" style="fill:#111">10</text><text x="-281" y="1508" style="fill:#111">11</text><text x="-266" y="1508" style="fill:#111">12</text><text x="-251" y="1508" style="fill:#111">13</text><text x="-236" y="1508" style="fill:#111">14</text><text x="-221" y="1508" style="fill:#111">15</text>
<text x="-205" y="1508" style="font-weight:bold;font-size:6.5px;fill:#111">B</text>
<text x="-191" y="1508" style="fill:#111">17</text><text x="-176" y="1508" style="fill:#111">18</text><text x="-161" y="1508" style="fill:#111">19</text>
</g>
</g>
<path d="M1487 290V412M1487 166V258" stroke="#333" stroke-width="0.4"/>
</svg>
</body></html>
